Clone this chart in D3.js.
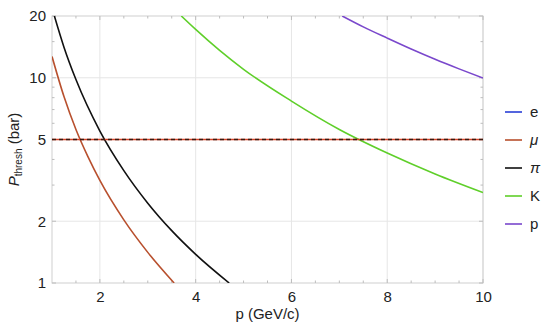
<!DOCTYPE html>
<html>
<head>
<meta charset="utf-8">
<script src="https://cdn.jsdelivr.net/npm/d3@7"></script>
<style>
  body { margin: 0; background: #fff; }
  text { font-family: "Liberation Sans", Arial, sans-serif; }
</style>
</head>
<body>
<div id="chart"></div>
<script>
// values (momentum in GeV/c, threshold pressure in bar)
const particles = ["e", "μ", "π", "K", "p"];
const colors = ["#2a3fd6", "#b8502e", "#111111", "#5fcf2a", "#7a48cc"];

const eP = [1, 2, 5, 10];
const eThresh = [0.0003, 0.00007, 0.000012, 0.000003];
const muP = [1.0, 1.25, 1.5, 1.75, 2.0, 2.5, 3.0, 3.55];
const muThresh = [12.7, 8.1, 5.6, 4.13, 3.16, 2.03, 1.41, 1.0];
const piP = [1.05, 1.25, 1.5, 2.0, 2.5, 3.0, 3.5, 4.0, 4.7];
const piThresh = [20, 14.1, 9.8, 5.5, 3.53, 2.45, 1.8, 1.38, 1.0];
const kP = [3.7, 4, 4.5, 5, 6, 7, 8, 9, 10];
const kThresh = [20, 17.2, 13.6, 11.0, 7.7, 5.6, 4.3, 3.4, 2.76];
const protonP = [7.06, 7.5, 8, 8.5, 9, 9.5, 10];
const protonThresh = [20, 17.7, 15.6, 13.8, 12.3, 11.05, 9.97];

const operatingPressure = 5;

const xTicks = [2, 4, 6, 8, 10];
const xMinorTicks = [1.5, 2.5, 3, 3.5, 4.5, 5, 5.5, 6.5, 7, 7.5, 8.5, 9, 9.5];
const yTicks = [1, 2, 5, 10, 20];
const yMinorTicks = [3, 4, 6, 7, 8, 9, 15];

const series = [
  { name: particles[0], color: colors[0], p: eP, v: eThresh },
  { name: particles[1], color: colors[1], p: muP, v: muThresh },
  { name: particles[2], color: colors[2], p: piP, v: piThresh },
  { name: particles[3], color: colors[3], p: kP, v: kThresh },
  { name: particles[4], color: colors[4], p: protonP, v: protonThresh }
];

const width = 550, height = 334;
const margin = { top: 16, right: 67, bottom: 51, left: 52 };
const innerW = width - margin.left - margin.right;
const innerH = height - margin.top - margin.bottom;
const fontSize = 15;

const svg = d3.select("#chart").append("svg")
  .attr("width", width)
  .attr("height", height);

const g = svg.append("g")
  .attr("transform", `translate(${margin.left},${margin.top})`);

const x = d3.scaleLinear().domain([1, 10]).range([0, innerW]);
const y = d3.scaleLog().domain([1, 20]).range([innerH, 0]);

// gridlines
g.append("g").selectAll("line")
  .data(xTicks)
  .join("line")
    .attr("x1", d => x(d)).attr("x2", d => x(d))
    .attr("y1", 0).attr("y2", innerH)
    .attr("stroke", "#e6e6e6");
g.append("g").selectAll("line")
  .data(yTicks.slice(1, -1))
  .join("line")
    .attr("x1", 0).attr("x2", innerW)
    .attr("y1", d => y(d)).attr("y2", d => y(d))
    .attr("stroke", "#e6e6e6");

// frame
g.append("rect")
  .attr("width", innerW).attr("height", innerH)
  .attr("fill", "none").attr("stroke", "#cfcfcf");

// axes
const xAxis = g.append("g")
  .attr("transform", `translate(0,${innerH})`)
  .call(d3.axisBottom(x).tickValues(xTicks).tickSize(0).tickPadding(8));
const yAxis = g.append("g")
  .call(d3.axisLeft(y).tickValues(yTicks).tickFormat(d3.format("d")).tickSize(0).tickPadding(6));
[xAxis, yAxis].forEach(a => {
  a.select(".domain").remove();
  a.selectAll("text").attr("font-size", fontSize).attr("fill", "#222")
    .attr("font-family", "'Liberation Sans', Arial, sans-serif");
});

// minor ticks (inside, all four sides)
const tickCol = "#bdbdbd";
const xAll = xTicks.concat(xMinorTicks);
g.append("g").selectAll("line")
  .data(xAll)
  .join("line")
    .attr("x1", d => x(d)).attr("x2", d => x(d))
    .attr("y1", innerH).attr("y2", d => innerH - (xTicks.includes(d) ? 4 : 2.5))
    .attr("stroke", tickCol);
g.append("g").selectAll("line")
  .data(xAll)
  .join("line")
    .attr("x1", d => x(d)).attr("x2", d => x(d))
    .attr("y1", 0).attr("y2", d => (xTicks.includes(d) ? 4 : 2.5))
    .attr("stroke", tickCol);
const yAll = yTicks.concat(yMinorTicks);
g.append("g").selectAll("line")
  .data(yAll)
  .join("line")
    .attr("x1", 0).attr("x2", d => (yTicks.includes(d) ? 4 : 2.5))
    .attr("y1", d => y(d)).attr("y2", d => y(d))
    .attr("stroke", tickCol);
g.append("g").selectAll("line")
  .data(yAll)
  .join("line")
    .attr("x1", innerW).attr("x2", d => innerW - (yTicks.includes(d) ? 4 : 2.5))
    .attr("y1", d => y(d)).attr("y2", d => y(d))
    .attr("stroke", tickCol);

// clip
svg.append("defs").append("clipPath").attr("id", "plot")
  .append("rect").attr("width", innerW).attr("height", innerH);

const line = d3.line()
  .x(d => x(d[0]))
  .y(d => y(d[1]))
  .curve(d3.curveMonotoneX);

const curves = g.append("g").attr("clip-path", "url(#plot)");
series.forEach(s => {
  curves.append("path")
    .datum(d3.zip(s.p, s.v).filter(d => d[1] > 0.9))
    .attr("fill", "none")
    .attr("stroke", s.color)
    .attr("stroke-width", 1.6)
    .attr("d", line);
});

// operating pressure line: red under dark dashes
curves.append("line")
  .attr("x1", 0).attr("x2", innerW)
  .attr("y1", y(operatingPressure)).attr("y2", y(operatingPressure))
  .attr("stroke", "#d8452a").attr("stroke-width", 1.6);
curves.append("line")
  .attr("x1", 0).attr("x2", innerW)
  .attr("y1", y(operatingPressure)).attr("y2", y(operatingPressure))
  .attr("stroke", "#3a1a10").attr("stroke-width", 1.6)
  .attr("stroke-dasharray", "4,3");

// axis titles
svg.append("text")
  .attr("x", margin.left + innerW / 2)
  .attr("y", 319)
  .attr("text-anchor", "middle")
  .attr("font-size", fontSize)
  .attr("fill", "#222")
  .text("p (GeV/c)");

const yt = svg.append("text")
  .attr("transform", `translate(19,${margin.top + innerH / 2}) rotate(-90)`)
  .attr("text-anchor", "middle")
  .attr("font-size", fontSize)
  .attr("fill", "#222");
yt.append("tspan").attr("font-style", "italic").text("P");
yt.append("tspan").attr("font-size", 10).attr("dy", 3).text("thresh");
yt.append("tspan").attr("dy", -3).text(" (bar)");

// legend
const legend = svg.append("g").attr("transform", "translate(505,112)");
const items = legend.selectAll("g")
  .data(series)
  .join("g")
    .attr("transform", (d, i) => `translate(0,${i * 28})`);
items.append("line")
  .attr("x1", 0).attr("x2", 17)
  .attr("stroke", d => d.color).attr("stroke-width", 1.6);
items.append("text")
  .attr("x", 25).attr("dy", "0.35em")
  .attr("font-size", fontSize)
  .attr("fill", "#222")
  .attr("font-style", d => (d.name === "μ" || d.name === "π") ? "italic" : null)
  .text(d => d.name);
</script>
</body>
</html>
